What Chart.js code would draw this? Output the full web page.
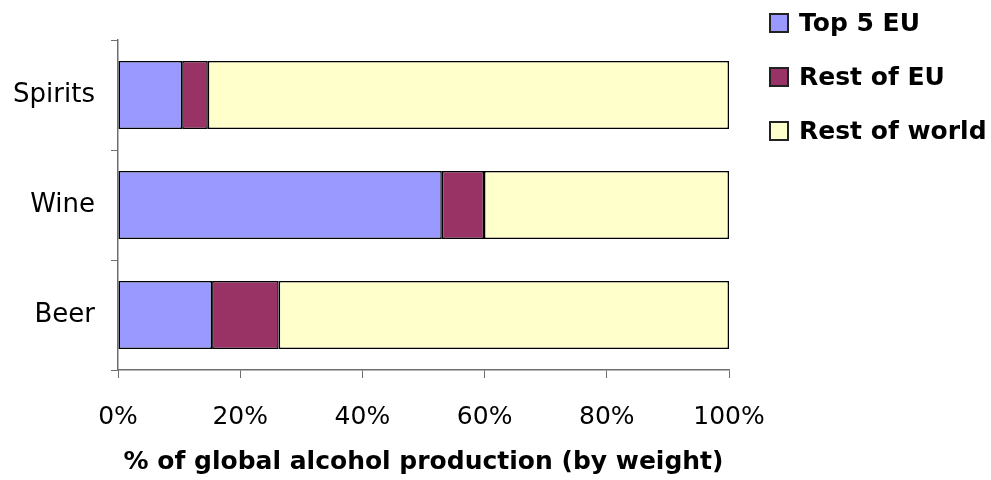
<!DOCTYPE html>
<html>
<head>
<meta charset="utf-8">
<script src="https://cdn.jsdelivr.net/npm/chart.js@4.4.1/dist/chart.umd.min.js"></script>
<style>
  body { margin: 0; background: #fff; }
  #wrap { width: 991px; height: 480px; position: relative; }
</style>
</head>
<body>
<div id="wrap"><canvas id="myChart"></canvas></div>
<script>
// data (% of global production)
const categories = ['Spirits', 'Wine', 'Beer'];
const top5EU = [10.5, 53.0, 15.4];
const restOfEU = [4.2, 6.9, 10.9];
const restOfWorld = [85.3, 40.1, 73.7];
const xTicks = [0, 20, 40, 60, 80, 100];
const xTickLabels = ['0%', '20%', '40%', '60%', '80%', '100%'];

const FONT = '"DejaVu Sans", "Liberation Sans", Arial, sans-serif';
const AXIS = '#6e6e6e';

// legend on the right, drawn on the canvas
const sideLegend = {
  id: 'sideLegend',
  afterDraw(chart) {
    const ctx = chart.ctx;
    ctx.save();
    ctx.font = 'bold 25px ' + FONT;
    ctx.textBaseline = 'middle';
    chart.data.datasets.forEach((ds, i) => {
      const y = 23 + i * 54;
      ctx.fillStyle = ds.backgroundColor;
      ctx.fillRect(770, y - 9, 18, 18);
      ctx.strokeStyle = '#222';
      ctx.lineWidth = 2;
      ctx.strokeRect(770, y - 9, 18, 18);
      ctx.fillStyle = '#000';
      ctx.fillText(ds.label, 799, y + 1);
    });
    ctx.restore();
  }
};

const data = {
  labels: categories,
  datasets: [{
    label: 'Top 5 EU',
    data: top5EU,
    backgroundColor: '#9999ff'
  }, {
    label: 'Rest of EU',
    data: restOfEU,
    backgroundColor: '#993366'
  }, {
    label: 'Rest of world',
    data: restOfWorld,
    backgroundColor: '#ffffcc'
  }]
};

const config = {
  type: 'bar',
  data: data,
  options: {
    indexAxis: 'y',
    responsive: true,
    maintainAspectRatio: false,
    animation: false,
    layout: {
      padding: { left: 0, right: 262, top: 40, bottom: 0 }
    },
    datasets: {
      bar: {
        borderColor: '#000',
        borderWidth: 1.5,
        borderSkipped: false,
        categoryPercentage: 1,
        barPercentage: 0.62
      }
    },
    plugins: {
      legend: { display: false },
      tooltip: { enabled: false }
    },
    scales: {
      x: {
        type: 'linear',
        stacked: true,
        min: 0,
        max: 100,
        afterBuildTicks: (scale) => {
          scale.ticks = xTicks.map(v => ({ value: v }));
        },
        afterFit: (scale) => { scale.height = 110; },
        ticks: {
          color: '#000',
          font: { family: FONT, size: 25 },
          padding: 24,
          maxRotation: 0,
          callback: (v) => xTickLabels[xTicks.indexOf(v)]
        },
        grid: {
          drawOnChartArea: false,
          color: AXIS,
          tickLength: 8
        },
        border: { color: AXIS, width: 1.5 },
        title: {
          display: true,
          text: '% of global alcohol production (by weight)',
          color: '#000',
          font: { family: FONT, size: 25, weight: 'bold' },
          padding: { top: 0, bottom: 3 }
        }
      },
      y: {
        type: 'category',
        stacked: true,
        afterFit: (scale) => { scale.width = 118; },
        ticks: {
          color: '#000',
          font: { family: FONT, size: 26 },
          padding: 16
        },
        grid: {
          offset: true,
          drawOnChartArea: false,
          color: AXIS,
          tickLength: 7
        },
        border: { color: AXIS, width: 1.5 }
      }
    }
  },
  plugins: [sideLegend]
};

const ctx = document.getElementById('myChart').getContext('2d');
let myChart = new Chart(ctx, config);
</script>
</body>
</html>
